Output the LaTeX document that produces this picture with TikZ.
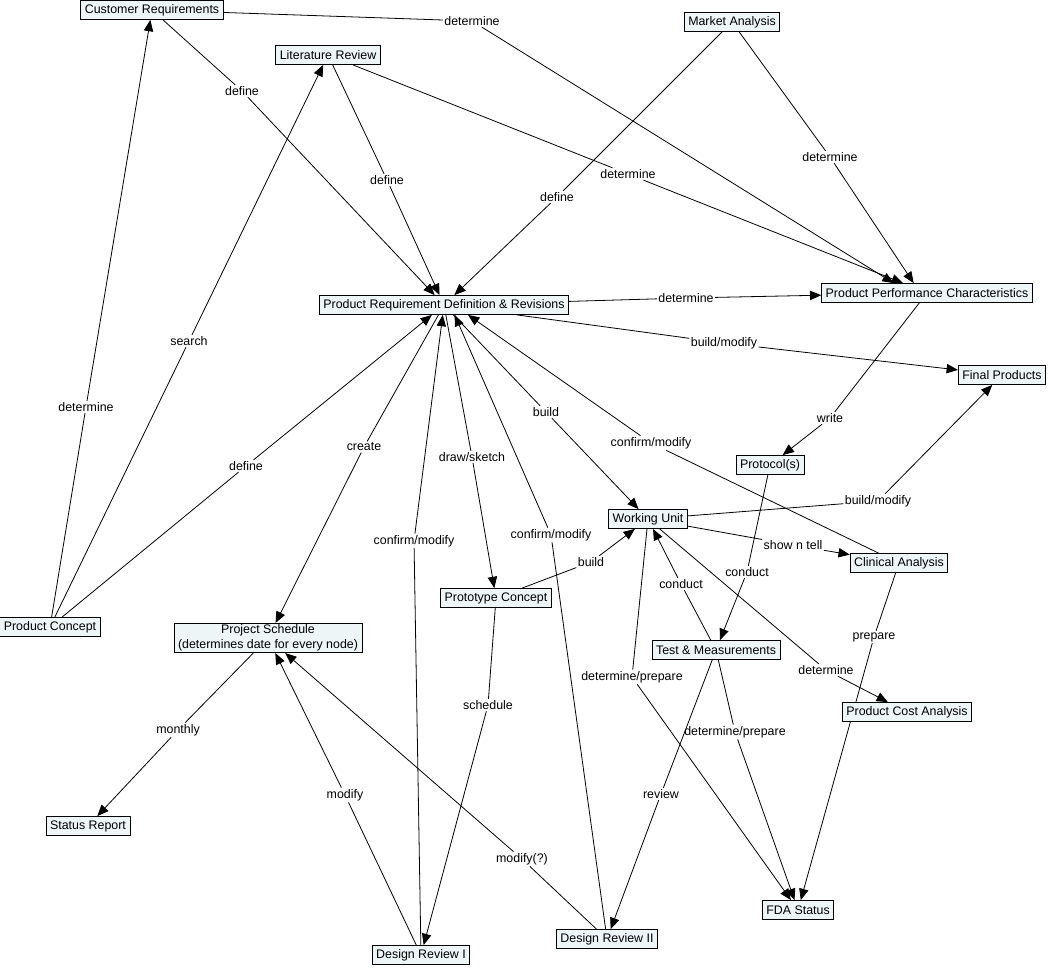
\documentclass[tikz,border=0pt]{standalone}
\usepackage{fontspec}
\setmainfont{Liberation Sans}
\usepackage{tikz}
\usetikzlibrary{arrows.meta,backgrounds}

\definecolor{cmapfill}{RGB}{238,245,247}
\newcommand{\cmapfont}{\fontsize{9.3}{11.2}\selectfont}

\begin{document}
\begin{tikzpicture}[
    x=0.75pt, y=-0.75pt,
    concept/.style={draw, fill=cmapfill, line width=0.6pt, font=\cmapfont,
                    align=center, inner xsep=3pt, inner ysep=1pt, minimum height=14.25pt},
    linkphrase/.style={font=\cmapfont, inner sep=1pt},
    linkline/.style={line width=0.6pt},
    linkarrow/.style={linkline, -{Triangle[length=8.5pt,width=7pt]}},
  ]
  \useasboundingbox (0,0) rectangle (1048,968);

  % === Concepts ===
  \node[concept] (custreq) at (152,10) {Customer Requirements};
  \node[concept] (litrev) at (328,55) {Literature Review};
  \node[concept] (market) at (732,22) {Market Analysis};
  \node[concept] (prodreq) at (444,305) {Product Requirement Definition \& Revisions};
  \node[concept] (perf) at (927,293) {Product Performance Characteristics};
  \node[concept] (final) at (1002,375) {Final Products};
  \node[concept] (protocol) at (770,465) {Protocol(s)};
  \node[concept] (unit) at (648,519) {Working Unit};
  \node[concept] (clinical) at (899,563) {Clinical Analysis};
  \node[concept] (concept) at (50,627) {Product Concept};
  \node[concept] (proto) at (496,598) {Prototype Concept};
  \node[concept] (sched) at (268,638) {Project Schedule\\(determines date for every node)};
  \node[concept] (test) at (716,650) {Test \& Measurements};
  \node[concept] (cost) at (907,712) {Product Cost Analysis};
  \node[concept] (status) at (88,826) {Status Report};
  \node[concept] (fda) at (798,910) {FDA Status};
  \node[concept] (review2) at (607,939) {Design Review II};
  \node[concept] (review1) at (421,955) {Design Review I};

  % === Linking phrases ===
  \node[linkphrase] (crdet) at (472,21) {determine};
  \node[linkphrase] (crdef) at (242,91) {define};
  \node[linkphrase] (lrdef) at (387,180) {define};
  \node[linkphrase] (lrdet) at (628,174) {determine};
  \node[linkphrase] (madef) at (557,197) {define};
  \node[linkphrase] (madet) at (830,157) {determine};
  \node[linkphrase] (prdet) at (686,298) {determine};
  \node[linkphrase] (prbuild) at (724,343) {build/modify};
  \node[linkphrase] (write) at (830,418) {write};
  \node[linkphrase] (pcdet) at (86,407) {determine};
  \node[linkphrase] (search) at (189,341) {search};
  \node[linkphrase] (pcdef) at (246,466) {define};
  \node[linkphrase] (create) at (364,447) {create};
  \node[linkphrase] (sketch) at (472,457) {draw/sketch};
  \node[linkphrase] (build1) at (546,412) {build};
  \node[linkphrase] (cacm) at (651,443) {confirm/modify};
  \node[linkphrase] (wubuild) at (878,501) {build/modify};
  \node[linkphrase] (drtwocm) at (551,535) {confirm/modify};
  \node[linkphrase] (dronecm) at (414,541) {confirm/modify};
  \node[linkphrase] (build2) at (591,562) {build};
  \node[linkphrase] (show) at (793,545) {show n tell};
  \node[linkphrase] (conduct1) at (747,572) {conduct};
  \node[linkphrase] (conduct2) at (681,584) {conduct};
  \node[linkphrase] (prepare) at (874,637) {prepare};
  \node[linkphrase] (wudet) at (826,670) {determine};
  \node[linkphrase] (wudp) at (632,677) {determine/prepare};
  \node[linkphrase] (schedule) at (488,705) {schedule};
  \node[linkphrase] (monthly) at (178,730) {monthly};
  \node[linkphrase] (tmdp) at (735,732) {determine/prepare};
  \node[linkphrase] (review) at (661,794) {review};
  \node[linkphrase] (modify) at (345,795) {modify};
  \node[linkphrase] (modifyq) at (522,859) {modify(?)};

  % === Links ===
  \begin{scope}[on background layer]
    % top sources
    \draw[linkline] (custreq) -- (crdet);  \draw[linkarrow] (crdet) -- ([xshift=-25pt]perf.north);
    \draw[linkline] (custreq) -- (crdef);  \draw[linkarrow] (crdef) -- (prodreq);
    \draw[linkline] (litrev) -- (lrdef);   \draw[linkarrow] (lrdef) -- (prodreq);
    \draw[linkline] (litrev) -- (lrdet);   \draw[linkarrow] (lrdet) -- ([xshift=-18pt]perf.north);
    \draw[linkline] (market) -- (madef);   \draw[linkarrow] (madef) -- (prodreq);
    \draw[linkline] (market) -- (madet);   \draw[linkarrow] (madet) -- ([xshift=-10pt]perf.north);

    % product requirement definition
    \draw[linkline] (prodreq) -- (prdet);   \draw[linkarrow] (prdet) -- (perf);
    \draw[linkline] (prodreq) -- (prbuild); \draw[linkarrow] (prbuild) -- (final);
    \draw[linkline] (prodreq) -- (create);  \draw[linkarrow] (create) -- (sched);
    \draw[linkline] (prodreq) -- (sketch);  \draw[linkarrow] (sketch) -- (proto);
    \draw[linkline] (prodreq) -- (build1);  \draw[linkarrow] (build1) -- (unit);
    \draw[linkline] (perf) -- (write);      \draw[linkarrow] (write) -- (protocol);

    % product concept
    \draw[linkline] (concept) -- (pcdet);  \draw[linkarrow] (pcdet) -- (custreq);
    \draw[linkline] (concept) -- (search); \draw[linkarrow] (search) -- (litrev);
    \draw[linkline] (concept) -- (pcdef);  \draw[linkarrow] (pcdef) -- (prodreq);

    % feedback into requirements
    \draw[linkline] (clinical) -- (cacm);  \draw[linkarrow] (cacm) -- ([xshift=18pt]prodreq.south);
    \draw[linkline] (review2) -- (drtwocm); \draw[linkarrow] (drtwocm) -- ([xshift=8pt]prodreq.south);
    \draw[linkline] (review1) -- (dronecm); \draw[linkarrow] (dronecm) -- (prodreq);

    % working unit
    \draw[linkline] (proto) -- (build2);   \draw[linkarrow] (build2) -- (unit);
    \draw[linkline] (unit) -- (wubuild);   \draw[linkarrow] (wubuild) -- (final);
    \draw[linkline] (unit) -- (show);      \draw[linkarrow] (show) -- (clinical);
    \draw[linkline] (protocol) -- (conduct1); \draw[linkarrow] (conduct1) -- (test);
    \draw[linkline] (test) -- (conduct2);  \draw[linkarrow] (conduct2) -- (unit);
    \draw[linkline] (unit) -- (wudet);     \draw[linkarrow] (wudet) -- (cost);

    % FDA status
    \draw[linkline] (clinical) -- (prepare); \draw[linkarrow] (prepare) -- (fda);
    \draw[linkline] (unit) -- (wudp);      \draw[linkarrow] (wudp) -- (fda);
    \draw[linkline] (test) -- (tmdp);      \draw[linkarrow] (tmdp) -- (fda);

    % reviews and schedule
    \draw[linkline] (test) -- (review);    \draw[linkarrow] (review) -- (review2);
    \draw[linkline] (proto) -- (schedule); \draw[linkarrow] (schedule) -- (review1);
    \draw[linkline] (sched) -- (monthly);  \draw[linkarrow] (monthly) -- (status);
    \draw[linkline] (review1) -- (modify); \draw[linkarrow] (modify) -- (sched);
    \draw[linkline] (review2) -- (modifyq); \draw[linkarrow] (modifyq) -- (sched);
  \end{scope}

\end{tikzpicture}
\end{document}
